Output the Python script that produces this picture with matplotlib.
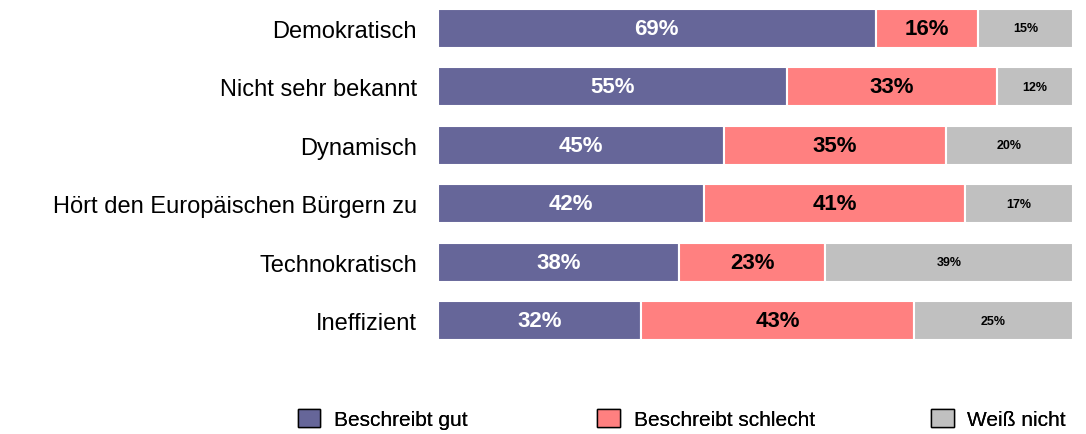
import numpy as np
import matplotlib.pyplot as plt
import matplotlib.patches as patches

plt.rcParams['font.family'] = ['Liberation Sans', 'DejaVu Sans']

# Data
categories = ['Demokratisch', 'Nicht sehr bekannt', 'Dynamisch',
              'Hört den Europäischen Bürgern zu', 'Technokratisch', 'Ineffizient']
gut = [69, 55, 45, 42, 38, 32]
schlecht = [16, 33, 35, 41, 23, 43]
weiss_nicht = [15, 12, 20, 17, 39, 25]
series_names = ['Beschreibt gut', 'Beschreibt schlecht', 'Weiß nicht']

colorList = ['#666699', '#FF8080', '#C0C0C0']
textColors = ['white', 'black', 'black']
textSizes = [16, 16, 9]

fig = plt.figure(figsize=(10.86, 4.35), dpi=100)
ax = fig.add_axes([0.403, 0.216, 0.585, 0.761])

y = np.arange(len(categories))
left = np.zeros(len(categories))
for vals, col, tc, ts in zip([gut, schlecht, weiss_nicht], colorList, textColors, textSizes):
    vals = np.array(vals, dtype=float)
    ax.barh(y, vals, left=left, height=0.66, color=col, edgecolor='white', linewidth=1.5)
    for yi, l, v in zip(y, left, vals):
        ax.text(l + v / 2, yi, f'{int(v)}%', ha='center', va='center',
                color=tc, fontsize=ts, fontweight='bold')
    left += vals

ax.set_xlim(0, 100)
ax.set_ylim(len(categories) - 0.5 - 0.17, -0.5 + 0.17)
ax.set_yticks(y)
ax.set_yticklabels(categories, fontsize=17)
ax.tick_params(axis='y', length=0, pad=15)
ax.set_xticks([])
for s in ax.spines.values():
    s.set_visible(False)

# Legend: one entry per block, placed like the reference
legend_x = [0.274, 0.550, 0.857]
for name, col, lx in zip(series_names, colorList, legend_x):
    h = patches.Patch(facecolor=col, edgecolor='black', linewidth=1)
    leg = fig.legend([h], [name], loc='center left', bbox_to_anchor=(lx, 0.035),
                     frameon=False, fontsize=15, handlelength=1.1, handleheight=1.0,
                     handletextpad=0.65, borderpad=0, borderaxespad=0)
    fig.add_artist(leg)

plt.savefig('out.png', dpi=100)
